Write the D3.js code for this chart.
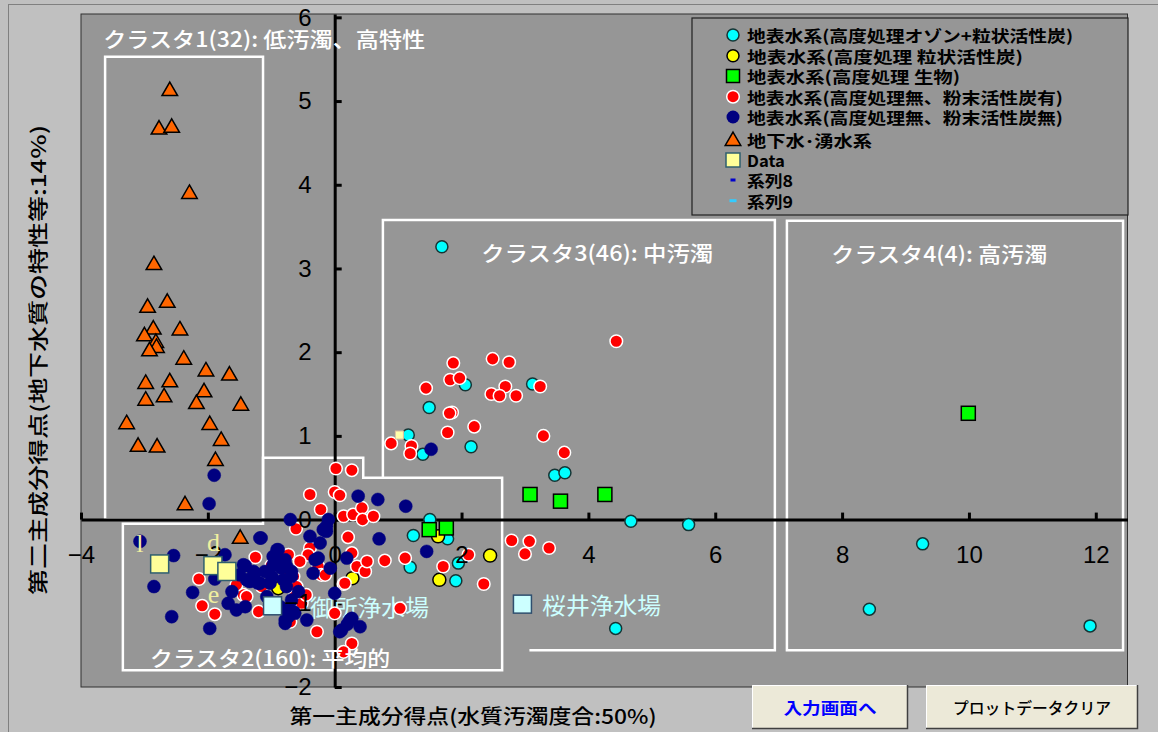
<!DOCTYPE html>
<html><head><meta charset="utf-8">
<script src="https://cdn.jsdelivr.net/npm/d3@7"></script>
<style>body{margin:0;background:#c0c0c0;} svg{display:block}</style>
</head><body><svg id="c" width="1158" height="732"></svg>
<script>
// ---------------- DATA ----------------
const seriesNames = ["地表水系(高度処理オゾン+粒状活性炭)","地表水系(高度処理 粒状活性炭)","地表水系(高度処理 生物)","地表水系(高度処理無、粉末活性炭有)","地表水系(高度処理無、粉末活性炭無)","地下水･湧水系","Data","系列8","系列9"];
const xTicks = [-4,-2,0,2,4,6,8,10,12];
const yTicks = [-2,-1,0,1,2,3,4,5,6];

const cyanPts = [[1.69,3.26],[3.12,1.62],[2.06,1.61],[1.49,1.34],[1.16,1.01],[1.39,0.78],[2.15,0.87],[3.47,0.53],[3.63,0.56],[1.50,0.00],[1.24,-0.19],[1.78,-0.23],[1.19,-0.57],[1.95,-0.52],[1.91,-0.73],[4.67,-0.02],[5.58,-0.06],[4.43,-1.30],[9.27,-0.29],[8.43,-1.07],[11.91,-1.27]];
const yellowPts = [[-0.89,-0.82],[0.28,-0.70],[1.63,-0.20],[1.65,-0.72],[2.45,-0.43]];
const greenPts = [[1.49,-0.12],[1.76,-0.10],[3.08,0.30],[3.56,0.22],[4.26,0.30],[9.99,1.27]];
const redPts = [[4.44,2.13],[1.87,1.87],[2.49,1.92],[2.75,1.88],[1.82,1.67],[1.97,1.69],[1.44,1.57],[2.69,1.59],[2.47,1.50],[2.60,1.48],[2.86,1.48],[3.24,1.59],[1.85,1.28],[1.81,1.27],[2.20,1.11],[1.78,1.04],[3.29,1.00],[3.62,0.80],[0.89,0.91],[1.21,0.88],[1.19,0.79],
 [0.02,0.61],[0.27,0.59],[-0.39,0.30],[0.00,0.33],[0.08,0.29],[-0.22,0.12],[0.14,0.04],[0.29,0.06],[0.43,0.14],[0.44,0.00],[0.61,0.04],
 [-0.61,-0.11],[0.21,-0.21],[-0.39,-0.34],[-0.42,-0.42],[0.27,-0.40],[0.35,-0.56],[0.48,-0.62],[0.51,-0.50],[0.79,-0.49],[1.11,-0.46],[-0.26,-0.56],[-0.21,-0.66],[-0.15,-0.66],[0.14,-0.77],[0.16,-0.76],[-0.73,-0.42],[-0.65,-0.68],[-0.60,-0.80],[-1.15,-0.80],[-1.44,-0.90],[-2.14,-0.71],[-2.09,-1.03],[-1.89,-1.13],[-0.63,-0.92],[-1.39,-0.92],[-0.52,-1.00],[-0.28,-1.34],[0.27,-1.48],[0.14,-1.58],[0.00,-1.12],[1.71,-0.56],[2.35,-0.77],[2.11,-0.42],[2.79,-0.25],[3.07,-0.26],[3.00,-0.41],[3.38,-0.34],[1.03,-1.06],
 [-1.00,-0.55],[-0.80,-0.60],[-0.95,-1.00],[-1.20,-1.10],[-0.70,-1.22],[-0.45,-0.90],[-0.55,-0.50],[-1.25,-0.45],[-1.55,-0.78]];
const navyPts = [[-1.90,0.53],[-1.98,0.19],[1.52,0.84],[0.37,0.28],[0.68,0.24],[1.12,0.16],[0.70,-0.23],[1.45,-0.38],
 [-3.07,-0.26],[-2.54,-0.43],[-2.85,-0.80],[-2.57,-1.16],[-2.24,-0.87],[-1.97,-1.30],[-1.89,-0.71],[-1.73,-0.42],[-1.44,-0.54],[-1.16,-0.22],[-1.41,-0.55],[-1.28,-0.62],[-1.50,-0.66],[-1.39,-0.72],[-1.62,-0.86],[-1.68,-1.00],[-1.55,-1.08],[-1.41,-1.04],[-1.07,-0.92],[-1.18,-0.76],[-0.99,-0.68],[-0.91,-0.36],[-0.86,-0.48],[-0.97,-0.54],[-0.76,-0.56],[-0.68,-0.62],[-0.81,-0.72],[-0.76,-0.80],[-0.68,-0.96],[-0.86,-1.04],[-0.65,-1.10],[-0.73,-1.16],[-0.44,-1.20],[-0.78,-1.24],[-0.57,-0.86],[-0.34,-0.64],[-0.39,-0.20],[-0.26,-0.46],[-0.10,0.00],[-0.13,-0.08],[-0.70,0.00],[-0.23,-0.28],[0.19,-0.46],[-0.07,-0.58],[0.00,-0.88],[0.08,-1.34],[0.27,-1.18],[0.40,-1.28],[0.20,-1.25],[-0.15,-0.12],
 [-0.18,-0.12],[-0.13,-0.14],[-0.31,-0.48],[-0.76,-1.08],[-0.63,-1.12],[-0.78,-1.20],[0.11,-1.32],[0.24,-1.20],[-0.89,-0.36],[-1.18,-0.22],[-0.78,-0.48],[-0.97,-0.44],[-0.84,-0.58],[-1.10,-0.62],[-1.26,-0.64],[-1.34,-0.74],[-1.21,-0.76],[-1.02,-0.76],[-0.68,-0.68]];
const groundPts = [[-2.60,5.12],[-2.77,4.66],[-2.57,4.68],[-2.29,3.89],[-2.85,3.04],[-2.64,2.59],[-2.95,2.53],[-2.86,2.27],[-3.00,2.19],[-2.44,2.26],[-2.82,2.11],[-2.81,2.05],[-2.92,2.01],[-2.38,1.91],[-2.03,1.77],[-1.66,1.72],[-2.98,1.62],[-2.60,1.64],[-2.06,1.52],[-2.98,1.42],[-2.69,1.46],[-2.18,1.38],[-1.48,1.36],[-3.28,1.14],[-1.97,1.13],[-3.10,0.87],[-2.80,0.86],[-1.79,0.94],[-1.88,0.70],[-2.36,0.17],[-1.49,-0.23]];
const dataPts = [[-2.76,-0.53],[-1.92,-0.55],[-1.70,-0.62]];
const dataMiniPts = [[1.02,1.01]];
const dataLabels = ["l","d","e"];
const dataLabelPos = [[-3.07,-0.28],[-1.91,-0.27],[-1.91,-0.90]];
const stationNames = ["御所浄水場","桜井浄水場"];
const stationPts = [[-0.98,-1.03],[2.96,-1.01]];
const stationLabelPos = [[-0.39,-1.03],[3.27,-1.01]];
const clusterNames = ["クラスタ1(32): 低汚濁、高特性","クラスタ2(160): 平均的","クラスタ3(46): 中汚濁","クラスタ4(4): 高汚濁"];
const clusterLabelPos = [[-3.65,5.75],[-2.91,-1.64],[2.31,3.20],[7.83,3.19]];
const cluster1 = [[-3.62,5.53],[-1.13,5.53],[-1.13,0],[-3.62,0]];
const cluster2 = [[-3.34,-0.05],[-1.13,-0.05],[-1.13,0.74],[0.45,0.74],[0.45,0.50],[2.64,0.50],[2.64,-1.80],[-3.34,-1.80]];
const cluster3 = [[3.07,-1.56],[6.94,-1.56],[6.94,3.58],[0.76,3.58],[0.76,0.50]];
const cluster4 = [[7.13,3.57],[12.43,3.57],[12.43,-1.56],[7.13,-1.56]];
const xTitle = "第一主成分得点(水質汚濁度合:50%)";
const yTitle = "第二主成分得点(地下水質の特性等:14%)";
const buttonLabels = ["入力画面へ","プロットデータクリア"];

// ---------------- DRAW ----------------
const svg = d3.select('#c');
const x = d3.scaleLinear().domain([-4,12.5]).range([81,1127.5]);
const y = d3.scaleLinear().domain([-2,6.04]).range([687,14]);
const JP = "'Noto Sans CJK JP','Noto Sans',sans-serif";

svg.append('rect').attr('width',1158).attr('height',732).attr('fill','#c0c0c0');
svg.append('rect').attr('x',8.5).attr('y',4.5).attr('width',1170).attr('height',760).attr('fill','none').attr('stroke','#808080');

// plot area
svg.append('rect').attr('x',x(-4)).attr('y',y(6.04)).attr('width',x(12.5)-x(-4)).attr('height',y(-2)-y(6.04))
  .attr('fill','#969696').attr('stroke','#303030').attr('stroke-width',1);

// cluster outlines
const line = d3.line().x(d=>x(d[0])).y(d=>y(d[1]));
const clusters = svg.append('g').attr('fill','none').attr('stroke','#fff').attr('stroke-width',2.5);
clusters.append('path').attr('d',line(cluster1)+'Z');
clusters.append('path').attr('d',line(cluster2)+'Z');
clusters.append('path').attr('d',line(cluster3));
clusters.append('path').attr('d',line(cluster4)+'Z');

// axes (lines)
const xAxisLines = d3.axisBottom(x).tickValues(xTicks).tickSizeInner(-7).tickSizeOuter(0).tickFormat('');
const yAxisLines = d3.axisLeft(y).tickValues(yTicks).tickSizeInner(-7).tickSizeOuter(0).tickFormat('');
const gx = svg.append('g').attr('transform',`translate(0,${y(0)})`).call(xAxisLines);
const gy = svg.append('g').attr('transform',`translate(${x(0)},0)`).call(yAxisLines);
[gx,gy].forEach(g=>{g.selectAll('path,line').attr('stroke','#000').attr('stroke-width',3);});

// station labels (beneath series)
const st = svg.append('g');
stationLabelPos.forEach((p,i)=>{
  st.append('text').attr('x',x(p[0])).attr('y',y(p[1])).attr('dominant-baseline','central')
    .attr('font-family',JP).attr('font-size',23).attr('fill','#ccffff')
    .attr('textLength',119).attr('lengthAdjust','spacingAndGlyphs').text(stationNames[i]);
});

// series
function circles(data, fill, stroke, sw, r){
  svg.append('g').selectAll('circle').data(data).join('circle')
    .attr('cx',d=>x(d[0])).attr('cy',d=>y(d[1])).attr('r',r)
    .attr('fill',fill).attr('stroke',stroke).attr('stroke-width',sw);
}
function squares(data, fill, stroke, sw, s){
  svg.append('g').selectAll('rect').data(data).join('rect')
    .attr('x',d=>x(d[0])-s/2).attr('y',d=>y(d[1])-s/2).attr('width',s).attr('height',s)
    .attr('fill',fill).attr('stroke',stroke).attr('stroke-width',sw);
}
circles(cyanPts,'#00ffff','#153535',1.5,6);
circles(yellowPts,'#ffff00','#000',1.5,6.5);
squares(greenPts,'#00ff00','#000',1.5,14);
circles(redPts,'#ff0000','#ffffff',1.5,6.3);
circles(navyPts,'#000080','#000080',0.5,6.5);
const tri = d3.symbol().type(d3.symbolTriangle).size(105);
svg.append('g').selectAll('path').data(groundPts).join('path')
  .attr('transform',d=>`translate(${x(d[0])},${y(d[1])})`).attr('d',tri)
  .attr('fill','#ff6600').attr('stroke','#000').attr('stroke-width',1.5);

// axis labels on top of series
const xAxisText = d3.axisBottom(x).tickValues(xTicks).tickSize(0).tickPadding(26);
const yAxisText = d3.axisLeft(y).tickValues(yTicks).tickSize(0).tickPadding(23);
const tx = svg.append('g').attr('transform',`translate(0,${y(0)})`).call(xAxisText);
const ty = svg.append('g').attr('transform',`translate(${x(0)},0)`).call(yAxisText);
[tx,ty].forEach(g=>{g.select('.domain').remove(); g.selectAll('line').remove();
  g.selectAll('text').attr('font-family','"Liberation Sans",Arial,sans-serif').attr('font-size',24).attr('fill','#000');});

// station squares and Data series on top
squares(stationPts,'#ccffff','#2f4f6f',1.5,18);
squares(dataPts,'#ffff99','#2f5f6f',1.5,18);
squares(dataMiniPts,'#ffffaa','#e0c0a0',1,8);
svg.append('g').selectAll('text').data(dataLabels).join('text')
  .attr('x',(d,i)=>x(dataLabelPos[i][0])).attr('y',(d,i)=>y(dataLabelPos[i][1]))
  .attr('text-anchor','middle').attr('dominant-baseline','central')
  .attr('font-family','"Liberation Serif",serif').attr('font-size',26).attr('fill','#f0f0a0').text(d=>d);

// cluster labels
const clW = [322,240,232,216];
svg.append('g').selectAll('text').data(clusterNames).join('text')
  .attr('x',(d,i)=>x(clusterLabelPos[i][0])).attr('y',(d,i)=>y(clusterLabelPos[i][1]))
  .attr('dominant-baseline','central').attr('font-family',JP).attr('font-size',21).attr('font-weight',500)
  .attr('fill','#fff').attr('textLength',(d,i)=>clW[i]).attr('lengthAdjust','spacingAndGlyphs').text(d=>d);

// legend
const lg = svg.append('g');
lg.append('rect').attr('x',692).attr('y',18).attr('width',436).attr('height',197).attr('fill','#969696').attr('stroke','#202020').attr('stroke-width',1.2);
const rowY = [35,55.7,76,96.7,117,140,160,180,200.7];
const rowW = [326,276,213,316,316,125,38,46,46];
const mx = 733;
lg.append('circle').attr('cx',mx).attr('cy',rowY[0]).attr('r',6).attr('fill','#00ffff').attr('stroke','#153535').attr('stroke-width',1.5);
lg.append('circle').attr('cx',mx).attr('cy',rowY[1]).attr('r',6).attr('fill','#ffff00').attr('stroke','#000').attr('stroke-width',1.5);
lg.append('rect').attr('x',mx-6.5).attr('y',rowY[2]-6.5).attr('width',13).attr('height',13).attr('fill','#00ff00').attr('stroke','#000').attr('stroke-width',1.5);
lg.append('circle').attr('cx',mx).attr('cy',rowY[3]).attr('r',6.3).attr('fill','#ff0000').attr('stroke','#fff').attr('stroke-width',1.5);
lg.append('circle').attr('cx',mx).attr('cy',rowY[4]).attr('r',6.5).attr('fill','#000080');
lg.append('path').attr('transform',`translate(${mx},${rowY[5]+1})`).attr('d',tri).attr('fill','#ff6600').attr('stroke','#000').attr('stroke-width',1.5);
lg.append('rect').attr('x',mx-7).attr('y',rowY[6]-7).attr('width',14).attr('height',14).attr('fill','#ffff99').attr('stroke','#2f5f6f').attr('stroke-width',1.5);
lg.append('rect').attr('x',mx-2.5).attr('y',rowY[7]-1.5).attr('width',5).attr('height',3).attr('fill','#0000cc');
lg.append('rect').attr('x',mx-3.5).attr('y',rowY[8]-1.5).attr('width',7).attr('height',3).attr('fill','#33ccff');
lg.selectAll('text.lt').data(seriesNames).join('text').attr('class','lt')
  .attr('x',747).attr('y',(d,i)=>rowY[i]).attr('dominant-baseline','central')
  .attr('font-family',JP).attr('font-size',16).attr('font-weight',700).attr('fill','#000')
  .attr('textLength',(d,i)=>rowW[i]).attr('lengthAdjust','spacingAndGlyphs').text(d=>d);

// axis titles
svg.append('text').attr('x',473).attr('y',715).attr('text-anchor','middle').attr('dominant-baseline','central')
  .attr('font-family',JP).attr('font-size',20).attr('font-weight',500).attr('fill','#000')
  .attr('textLength',367).attr('lengthAdjust','spacingAndGlyphs').text(xTitle);
svg.append('text').attr('transform','translate(37,360) rotate(-90)').attr('text-anchor','middle').attr('dominant-baseline','central')
  .attr('font-family',JP).attr('font-size',20).attr('font-weight',500).attr('fill','#000')
  .attr('textLength',470).attr('lengthAdjust','spacingAndGlyphs').text(yTitle);

// buttons
const btn = [[752,685,156,44,'#0000ff',93],[926,685,212,44,'#000',158]];
btn.forEach((b,i)=>{
  const g = svg.append('g');
  g.append('rect').attr('x',b[0]).attr('y',b[1]).attr('width',b[2]).attr('height',b[3]).attr('fill','#ece9d8');
  g.append('path').attr('d',`M${b[0]+0.5},${b[1]+b[3]} V${b[1]+0.5} H${b[0]+b[2]}`).attr('fill','none').attr('stroke','#fff').attr('stroke-width',1);
  g.append('path').attr('d',`M${b[0]},${b[1]+b[3]-0.5} H${b[0]+b[2]-0.5} V${b[1]}`).attr('fill','none').attr('stroke','#404040').attr('stroke-width',1.5);
  g.append('text').attr('x',b[0]+b[2]/2).attr('y',b[1]+b[3]/2).attr('text-anchor','middle').attr('dominant-baseline','central')
    .attr('font-family',JP).attr('font-size',16).attr('font-weight',i===0?700:500).attr('fill',b[4])
    .attr('textLength',b[5]).attr('lengthAdjust','spacingAndGlyphs').text(buttonLabels[i]);
});
</script></body></html>
